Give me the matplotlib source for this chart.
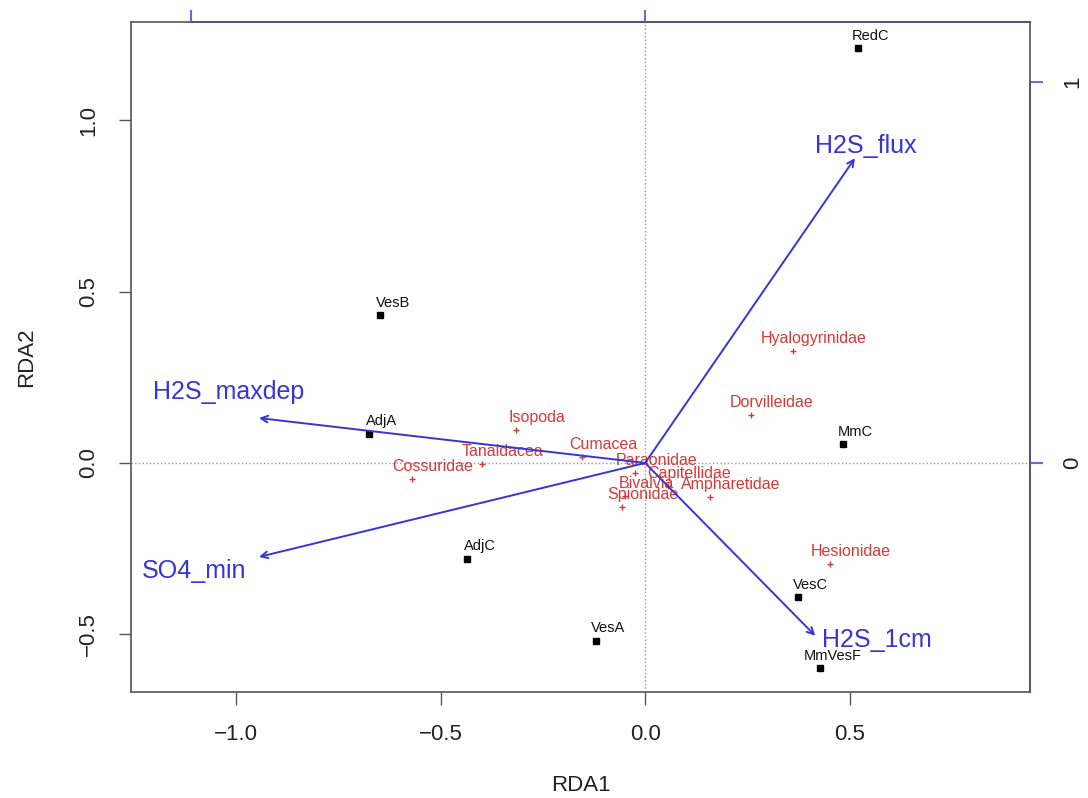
import matplotlib.pyplot as plt
import numpy as np

plt.rcParams['font.family'] = ['Liberation Sans', 'DejaVu Sans']

# site scores (black squares)
site_names = ['RedC', 'VesB', 'AdjA', 'MmC', 'AdjC', 'VesC', 'VesA', 'MmVesF']
site_x = [0.521, -0.648, -0.675, 0.484, -0.435, 0.374, -0.120, 0.428]
site_y = [1.210, 0.431, 0.085, 0.055, -0.280, -0.391, -0.519, -0.598]

# species scores (red crosses)
species_names = ['Hyalogyrinidae', 'Dorvilleidae', 'Isopoda', 'Cumacea', 'Tanaidacea',
                 'Cossuridae', 'Paraonidae', 'Capitellidae', 'Bivalvia', 'Ampharetidae',
                 'Spionidae', 'Hesionidae']
species_x = [0.362, 0.259, -0.315, -0.154, -0.399, -0.570, -0.024, 0.056, -0.049, 0.159,
             -0.056, 0.452]
species_y = [0.327, 0.140, 0.096, 0.017, -0.003, -0.047, -0.029, -0.067, -0.096, -0.099,
             -0.128, -0.294]

# environmental biplot arrows
env_names = ['H2S_flux', 'H2S_maxdep', 'SO4_min', 'H2S_1cm']
env_x = [0.513, -0.944, -0.944, 0.416]
env_y = [0.889, 0.131, -0.274, -0.504]
arrow_mul = 1.111

blue = '#3535d8'
red = '#d83838'
axcol = '#555555'

fig = plt.figure(figsize=(10.88, 7.98), dpi=100)
ax = fig.add_axes([0.1204, 0.1328, 0.8263, 0.8396])
ax.set_xlim(-1.257, 0.941)
ax.set_ylim(-0.668, 1.286)

ax.axhline(0, color='#999999', ls=':', lw=1)
ax.axvline(0, color='#999999', ls=':', lw=1)

# species
ax.plot(species_x, species_y, '+', color=red, ms=5, mew=1)
for n, x, y in zip(species_names, species_x, species_y):
    ax.annotate(n, (x, y), xytext=(15, 9), textcoords='offset points',
                ha='center', va='center', fontsize=11.5, color=red)

# sites
ax.plot(site_x, site_y, 's', color='black', ms=5)
for n, x, y in zip(site_names, site_x, site_y):
    ax.annotate(n, (x, y), xytext=(9, 9), textcoords='offset points',
                ha='center', va='center', fontsize=10.5, color='#111111')

# arrows
offs = [(8, 9), (-22, 19), (-47, -10), (44, -3)]
for n, x, y, o in zip(env_names, env_x, env_y, offs):
    ax.annotate('', xy=(x, y), xytext=(0, 0),
                arrowprops=dict(arrowstyle='->', color=blue, lw=1.4,
                                mutation_scale=12, shrinkA=0, shrinkB=0))
    ax.annotate(n, (x, y), xytext=o, textcoords='offset points',
                ha='center', va='center', fontsize=18, color=blue)

ax.set_xticks([-1.0, -0.5, 0.0, 0.5])
ax.set_yticks([-0.5, 0.0, 0.5, 1.0])
ax.tick_params(length=9, width=1, color=axcol, labelsize=16, labelcolor='#222222', pad=14)
for lab in ax.get_yticklabels():
    lab.set_rotation(90)
    lab.set_va('center')
for s in ax.spines.values():
    s.set_color(axcol)
    s.set_linewidth(1.2)

ax.set_xlabel('RDA1', fontsize=16, color='#222222')
ax.set_ylabel('RDA2', fontsize=16, color='#222222')
ax.xaxis.set_label_coords(0.5, -0.124)
ax.yaxis.set_label_coords(-0.104, 0.5)

# arrow scale axes
topax = ax.secondary_xaxis('top', functions=(lambda v: v / arrow_mul, lambda v: v * arrow_mul))
topax.set_xticks([-1, 0])
topax.tick_params(length=9, width=1.5, color='#6a6ae0', labeltop=False)
topax.spines['top'].set_color('#6a6ae0')
topax.spines['top'].set_linewidth(1.5)
topax.spines['top'].set_bounds(-1, 0.941 / arrow_mul)

rax = ax.secondary_yaxis('right', functions=(lambda v: v / arrow_mul, lambda v: v * arrow_mul))
rax.set_yticks([0, 1])
rax.tick_params(length=9, width=1.5, color='#6a6ae0', labelsize=16, labelcolor='#222222', pad=14)
for lab in rax.get_yticklabels():
    lab.set_rotation(90)
    lab.set_va('center')
rax.spines['right'].set_color('#6a6ae0')
rax.spines['right'].set_linewidth(1.5)
rax.spines['right'].set_bounds(-0.668 / arrow_mul, 1)

fig.savefig('out.png', dpi=100)
